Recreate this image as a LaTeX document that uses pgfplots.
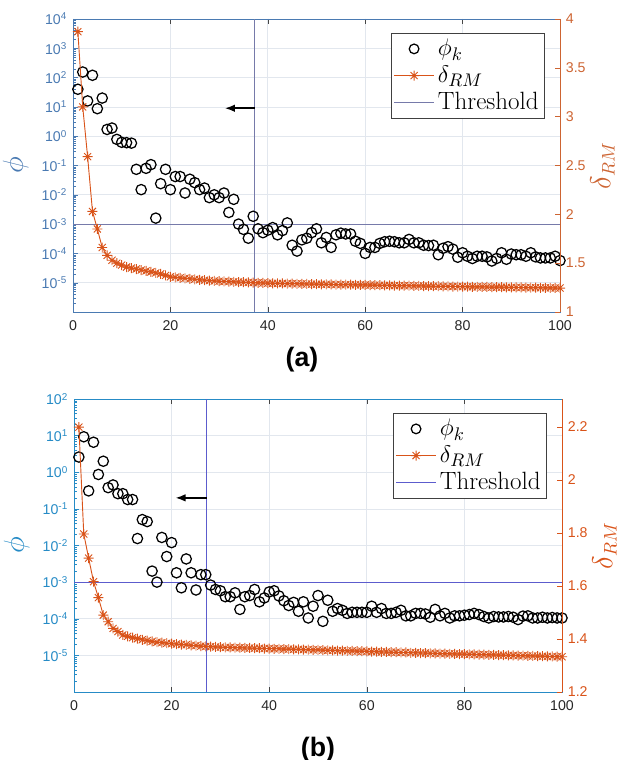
\documentclass[border=0pt]{standalone}
\usepackage{pgfplots}
\pgfplotsset{compat=1.18}
\usepackage{pgfplotstable}
\usepackage{fontspec}
\setsansfont{Liberation Sans}
\usetikzlibrary{arrows.meta}
\definecolor{lblueA}{RGB}{74,122,178}
\definecolor{lblueB}{RGB}{38,139,198}
\definecolor{morange}{RGB}{217,83,25}
\definecolor{raxA}{RGB}{205,100,50}
\definecolor{thrA}{RGB}{118,122,170}
\definecolor{thrB}{RGB}{92,92,205}
\definecolor{gridc}{RGB}{226,231,238}
\definecolor{boxc}{RGB}{70,70,70}
\definecolor{tickc}{RGB}{38,38,38}
\pgfkeys{/pgf/number format/assume math mode=true}

\pgfdeclareplotmark{mstar}{%
 \pgfpathmoveto{\pgfqpoint{-\pgfplotmarksize}{0pt}}\pgfpathlineto{\pgfqpoint{\pgfplotmarksize}{0pt}}%
 \pgfpathmoveto{\pgfqpoint{0pt}{-\pgfplotmarksize}}\pgfpathlineto{\pgfqpoint{0pt}{\pgfplotmarksize}}%
 \pgfpathmoveto{\pgfqpoint{-0.707\pgfplotmarksize}{-0.707\pgfplotmarksize}}\pgfpathlineto{\pgfqpoint{0.707\pgfplotmarksize}{0.707\pgfplotmarksize}}%
 \pgfpathmoveto{\pgfqpoint{-0.707\pgfplotmarksize}{0.707\pgfplotmarksize}}\pgfpathlineto{\pgfqpoint{0.707\pgfplotmarksize}{-0.707\pgfplotmarksize}}%
 \pgfusepathqstroke}

\def\minorlogA{2e-6,3e-6,4e-6,5e-6,6e-6,7e-6,8e-6,9e-6,
2e-5,3e-5,4e-5,5e-5,6e-5,7e-5,8e-5,9e-5,
2e-4,3e-4,4e-4,5e-4,6e-4,7e-4,8e-4,9e-4,
2e-3,3e-3,4e-3,5e-3,6e-3,7e-3,8e-3,9e-3,
0.02,0.03,0.04,0.05,0.06,0.07,0.08,0.09,
0.2,0.3,0.4,0.5,0.6,0.7,0.8,0.9,
2,3,4,5,6,7,8,9,
20,30,40,50,60,70,80,90}

\pgfplotstableread{
x phi delta
1 40 3.87
2 155 3.10
3 16 2.59
4 120 2.03
5 8.7 1.85
6 20 1.66
7 1.7 1.58
8 1.9 1.53
9 0.78 1.50
10 0.62 1.48
11 0.6 1.46
12 0.58 1.45
13 0.074 1.44
14 0.015 1.43
15 0.08 1.42
16 0.107 1.41
17 0.0016 1.40
18 0.024 1.39
19 0.074 1.375
20 0.015 1.36
21 0.042 1.355
22 0.042 1.35
23 0.0115 1.345
24 0.034 1.34
25 0.026 1.335
26 0.015 1.33
27 0.017 1.326
28 0.008 1.322
29 0.01 1.318
30 0.008 1.315
31 0.0115 1.313
32 0.0025 1.311
33 0.007 1.309
34 0.001 1.307
35 6.6e-4 1.305
36 3.3e-4 1.303
37 1.85e-3 1.301
38 6.9e-4 1.299
39 5.1e-4 1.297
40 6.2e-4 1.295
41 7.6e-4 1.294
42 4.3e-4 1.293
43 6e-4 1.292
44 1.1e-3 1.291
45 1.9e-4 1.290
46 1.2e-4 1.289
47 2.9e-4 1.288
48 3.3e-4 1.287
49 5.1e-4 1.286
50 6.9e-4 1.285
51 2.3e-4 1.284
52 3.5e-4 1.283
53 1.6e-4 1.282
54 4.3e-4 1.281
55 4.9e-4 1.280
56 4.6e-4 1.280
57 4.6e-4 1.279
58 2.6e-4 1.278
59 2.2e-4 1.278
60 1e-4 1.277
61 1.6e-4 1.276
62 1.6e-4 1.275
63 2.2e-4 1.274
64 2.5e-4 1.273
65 2.6e-4 1.272
66 2.5e-4 1.271
67 2.3e-4 1.270
68 2.3e-4 1.269
69 3e-4 1.269
70 2.3e-4 1.268
71 2.3e-4 1.267
72 1.9e-4 1.266
73 1.85e-4 1.265
74 1.9e-4 1.264
75 9e-5 1.264
76 1.5e-4 1.263
77 1.7e-4 1.262
78 1.4e-4 1.261
79 7.4e-5 1.261
80 1.05e-4 1.260
81 8e-5 1.259
82 6.7e-5 1.258
83 8e-5 1.257
84 8e-5 1.257
85 7.6e-5 1.256
86 5.5e-5 1.255
87 6.7e-5 1.254
88 1.05e-4 1.254
89 6.3e-5 1.253
90 9.5e-5 1.252
91 9e-5 1.251
92 9e-5 1.251
93 8e-5 1.250
94 1.05e-4 1.249
95 7.6e-5 1.249
96 7e-5 1.248
97 7e-5 1.247
98 7e-5 1.247
99 8e-5 1.246
100 5.7e-5 1.245
}\dataA

\pgfplotstableread{
x phi delta
1 2.6 2.199
2 9.3 1.796
3 0.31 1.705
4 6.6 1.616
5 0.87 1.556
6 2.0 1.49
7 0.38 1.465
8 0.45 1.44
9 0.26 1.428
10 0.26 1.415
11 0.18 1.410
12 0.18 1.405
13 0.0155 1.401
14 0.051 1.397
15 0.045 1.394
16 0.002 1.391
17 0.001 1.388
18 0.0166 1.386
19 0.005 1.384
20 0.012 1.382
21 0.0018 1.381
22 7e-4 1.379
23 0.0043 1.378
24 0.0018 1.376
25 6.1e-4 1.375
26 0.0016 1.373
27 0.0016 1.372
28 8.3e-4 1.371
29 6.3e-4 1.370
30 5.8e-4 1.369
31 4e-4 1.368
32 4e-4 1.368
33 5.1e-4 1.367
34 1.8e-4 1.367
35 4e-4 1.366
36 4.3e-4 1.366
37 6.3e-4 1.365
38 2.9e-4 1.365
39 3.7e-4 1.364
40 5.4e-4 1.364
41 5.8e-4 1.363
42 4.2e-4 1.363
43 3.1e-4 1.362
44 2.3e-4 1.362
45 2.8e-4 1.361
46 1.6e-4 1.361
47 2.9e-4 1.360
48 1.05e-4 1.360
49 2.2e-4 1.359
50 4.3e-4 1.359
51 8.5e-5 1.358
52 3.2e-4 1.357
53 1.6e-4 1.357
54 1.9e-4 1.356
55 1.7e-4 1.356
56 1.4e-4 1.355
57 1.5e-4 1.355
58 1.5e-4 1.354
59 1.5e-4 1.354
60 1.5e-4 1.353
61 2.2e-4 1.352
62 1.5e-4 1.352
63 1.9e-4 1.351
64 1.4e-4 1.351
65 1.4e-4 1.350
66 1.5e-4 1.350
67 1.7e-4 1.349
68 1.2e-4 1.349
69 1.2e-4 1.348
70 1.4e-4 1.348
71 1.4e-4 1.347
72 1.35e-4 1.347
73 1.1e-4 1.346
74 1.8e-4 1.346
75 1.2e-4 1.345
76 1.4e-4 1.345
77 1.05e-4 1.344
78 1.2e-4 1.344
79 1.2e-4 1.343
80 1.25e-4 1.343
81 1.3e-4 1.342
82 1.4e-4 1.342
83 1.3e-4 1.341
84 1.15e-4 1.341
85 1.05e-4 1.340
86 1.15e-4 1.340
87 1.12e-4 1.339
88 1.12e-4 1.339
89 1.15e-4 1.338
90 1.1e-4 1.338
91 9.5e-5 1.337
92 1.18e-4 1.337
93 1.2e-4 1.336
94 1.05e-4 1.336
95 1.05e-4 1.335
96 1.1e-4 1.335
97 1.05e-4 1.334
98 1.08e-4 1.334
99 1.05e-4 1.333
100 1.05e-4 1.333
}\dataB

\begin{document}
\begin{tikzpicture}
\useasboundingbox (0,0) rectangle (372pt,456pt);
% ---------------- (a) ----------------
\begin{semilogyaxis}[scale only axis, at={(43.8pt,268.8pt)}, anchor=south west, width=292.2pt, height=175.8pt,
  xmin=0, xmax=100, ymin=1e-6, ymax=1e4, xtick={0,20,...,100},
  tick align=inside, major tick length=3pt, minor tick length=1.6pt,
  ticklabel style={font=\sffamily\fontsize{8.5}{10}\selectfont},
  grid=major, major grid style={gridc, line width=0.4pt},
  axis line style={boxc, line width=0.5pt},
  xtick style={boxc}, xticklabel style={tickc, yshift=-1.5pt}, ytick pos=left,
  ytick={1e-6,1e-5,1e-4,1e-3,1e-2,1e-1,1,10,100,1000,10000},
  minor ytick/.expanded={\minorlogA,200,300,400,500,600,700,800,900,2000,3000,4000,5000,6000,7000,8000,9000},
  yticklabels={,10\textsuperscript{-5},10\textsuperscript{-4},10\textsuperscript{-3},10\textsuperscript{-2},10\textsuperscript{-1},10\textsuperscript{0},10\textsuperscript{1},10\textsuperscript{2},10\textsuperscript{3},10\textsuperscript{4}},
  y axis line style={lblueA}, ytick style={lblueA}, yticklabel style={lblueA},
  ylabel={$\phi$}, ylabel shift=1pt, ylabel style={lblueA, font=\fontsize{16}{18}\selectfont}]
\addplot[thrA, line width=0.7pt] coordinates {(0,1e-3) (100,1e-3)};
\addplot[thrA, line width=0.7pt] coordinates {(37.3,1e-6) (37.3,1e4)};
\addplot[black, line width=0.9pt, -{Latex[length=6pt,width=4.5pt]}] coordinates {(37.3,9) (31.2,9)};
\addplot[only marks, mark=o, mark size=3.1pt, black, line width=0.75pt] table[x=x,y=phi]{\dataA};
\end{semilogyaxis}
\begin{axis}[scale only axis, at={(43.8pt,268.8pt)}, anchor=south west, width=292.2pt, height=175.8pt,
  xmin=0, xmax=100, ymin=1, ymax=4, ytick={1,1.5,2,2.5,3,3.5,4},
  axis y line*=right, axis x line=none,
  tick align=inside, major tick length=3pt,
  ticklabel style={font=\sffamily\fontsize{8.5}{10}\selectfont},
  y axis line style={raxA, line width=0.5pt}, ytick style={raxA}, yticklabel style={raxA},
  ylabel={$\delta_{RM}$}, ylabel shift=-4pt, ylabel style={raxA, font=\fontsize{16}{18}\selectfont},
  legend cell align=left,
  legend image code/.code={\draw[mark repeat=2,mark phase=2,#1] plot coordinates {(0cm,0cm) (0.42cm,0cm) (0.84cm,0cm)};},
  legend style={at={(0.969,0.952)}, anchor=north east, font=\fontsize{15}{17}\selectfont,
    draw=black!75, line width=0.5pt, inner sep=1.5pt, row sep=0.5pt}]
\addlegendimage{only marks, mark=o, mark size=2.9pt, black, line width=0.75pt}
\addlegendentry{$\phi_k$}
\addplot[morange, mark=mstar, mark size=3pt, line width=0.55pt] table[x=x,y=delta]{\dataA};
\addlegendentry{$\delta_{RM}$}
\addlegendimage{thrA, line width=0.7pt}
\addlegendentry{Threshold}
\end{axis}
\node[font=\sffamily\bfseries\fontsize{16}{18}\selectfont] at (181.2pt,240.5pt) {(a)};
% ---------------- (b) ----------------
\begin{semilogyaxis}[scale only axis, at={(44.4pt,40.8pt)}, anchor=south west, width=292.8pt, height=175.8pt,
  xmin=0, xmax=100, ymin=1e-6, ymax=100, xtick={0,20,...,100},
  tick align=inside, major tick length=3pt, minor tick length=1.6pt,
  ticklabel style={font=\sffamily\fontsize{8.5}{10}\selectfont},
  grid=major, major grid style={gridc, line width=0.4pt},
  axis line style={boxc, line width=0.5pt},
  xtick style={boxc}, xticklabel style={tickc, yshift=-1.5pt}, ytick pos=left,
  ytick={1e-6,1e-5,1e-4,1e-3,1e-2,1e-1,1,10,100},
  minor ytick/.expanded={\minorlogA},
  yticklabels={,10\textsuperscript{-5},10\textsuperscript{-4},10\textsuperscript{-3},10\textsuperscript{-2},10\textsuperscript{-1},10\textsuperscript{0},10\textsuperscript{1},10\textsuperscript{2}},
  y axis line style={lblueB}, ytick style={lblueB}, yticklabel style={lblueB},
  ylabel={$\phi$}, ylabel shift=1pt, ylabel style={lblueB, font=\fontsize{16}{18}\selectfont}]
\addplot[thrB, line width=0.7pt] coordinates {(0,1e-3) (100,1e-3)};
\addplot[thrB, line width=0.7pt] coordinates {(27.2,1e-6) (27.2,100)};
\addplot[black, line width=0.9pt, -{Latex[length=6pt,width=4.5pt]}] coordinates {(27.2,0.2) (20.8,0.2)};
\addplot[only marks, mark=o, mark size=3.1pt, black, line width=0.75pt] table[x=x,y=phi]{\dataB};
\end{semilogyaxis}
\begin{axis}[scale only axis, at={(44.4pt,40.8pt)}, anchor=south west, width=292.8pt, height=175.8pt,
  xmin=0, xmax=100, ymin=1.2, ymax=2.305, ytick={1.2,1.4,1.6,1.8,2,2.2},
  axis y line*=right, axis x line=none,
  tick align=inside, major tick length=3pt,
  ticklabel style={font=\sffamily\fontsize{8.5}{10}\selectfont},
  y axis line style={morange, line width=0.5pt}, ytick style={morange}, yticklabel style={morange},
  ylabel={$\delta_{RM}$}, ylabel shift=-4pt, ylabel style={morange, font=\fontsize{16}{18}\selectfont},
  legend cell align=left,
  legend image code/.code={\draw[mark repeat=2,mark phase=2,#1] plot coordinates {(0cm,0cm) (0.42cm,0cm) (0.84cm,0cm)};},
  legend style={at={(0.969,0.952)}, anchor=north east, font=\fontsize{15}{17}\selectfont,
    draw=black!75, line width=0.5pt, inner sep=1.5pt, row sep=0.5pt}]
\addlegendimage{only marks, mark=o, mark size=2.9pt, black, line width=0.75pt}
\addlegendentry{$\phi_k$}
\addplot[morange, mark=mstar, mark size=3pt, line width=0.55pt] table[x=x,y=delta]{\dataB};
\addlegendentry{$\delta_{RM}$}
\addlegendimage{thrB, line width=0.7pt}
\addlegendentry{Threshold}
\end{axis}
\node[font=\sffamily\bfseries\fontsize{16}{18}\selectfont] at (190.8pt,6.5pt) {(b)};
\end{tikzpicture}
\end{document}
